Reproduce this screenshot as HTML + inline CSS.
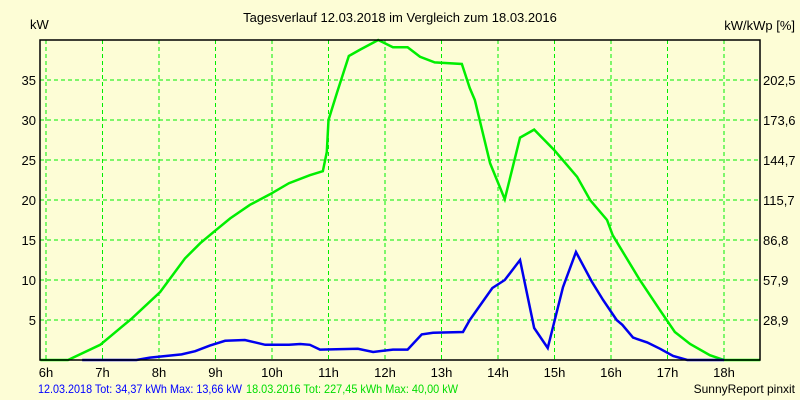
<!DOCTYPE html>
<html><head><meta charset="utf-8"><style>
body{margin:0;background:#fdfdd6;}
svg{display:block;font-family:"Liberation Sans",sans-serif;}
</style></head><body>
<svg id="c" width="800" height="400" viewBox="0 0 800 400">
<rect x="0" y="0" width="800" height="400" fill="#fdfdd6"/>
<text x="400" y="22" text-anchor="middle" font-size="13" fill="#000">Tagesverlauf 12.03.2018 im Vergleich zum 18.03.2016</text>
<text x="30" y="29" font-size="13" fill="#000">kW</text>
<text x="795" y="30" text-anchor="end" font-size="13" fill="#000">kW/kWp [%]</text>
<g id="grid"></g>
<g id="series"></g>
<rect x="40" y="40" width="720" height="320" fill="none" stroke="#000" stroke-width="1.5"/>
<g id="labels"></g>
<text x="38" y="393" font-size="12" fill="#0000ff" textLength="204" lengthAdjust="spacingAndGlyphs">12.03.2018 Tot: 34,37 kWh Max: 13,66 kW</text>
<text x="246" y="393" font-size="12" fill="#00dd00" textLength="212" lengthAdjust="spacingAndGlyphs">18.03.2016 Tot: 227,45 kWh Max: 40,00 kW</text>
<text x="795" y="393" text-anchor="end" font-size="12" fill="#000">SunnyReport pinxit</text>
</svg>
<script>
const hourTicks=[6,7,8,9,10,11,12,13,14,15,16,17,18];
const kwTicks=[5,10,15,20,25,30,35];
const pctTicks=["28,9","57,9","86,8","115,7","144,7","173,6","202,5"];
const h2016=[5.9,6.39,6.96,7.52,8.02,8.46,8.73,9.0,9.26,9.61,9.96,10.3,10.67,10.9,10.97,11.0,11.15,11.36,11.56,11.88,12.14,12.4,12.62,12.88,13.36,13.5,13.59,13.86,14.12,14.39,14.64,15.0,15.4,15.63,15.93,16.03,16.51,16.87,17.13,17.4,17.75,18.0,18.64];
const v2016=[0,0,1.9,5.2,8.5,12.7,14.6,16.2,17.7,19.4,20.7,22.1,23.1,23.6,26,30,33.4,38,38.8,40,39.1,39.1,37.9,37.2,37,34,32.5,24.6,20.1,27.8,28.8,26.2,22.9,20,17.5,15.6,10,6.2,3.5,2.0,0.6,0,0];
const h2018=[6.64,7.6,7.84,8.4,8.64,8.9,9.17,9.52,9.88,10.3,10.5,10.67,10.85,11.52,11.79,12.14,12.4,12.65,12.85,13.38,13.5,13.63,13.9,14.12,14.39,14.64,14.88,15.15,15.38,15.66,15.86,16.1,16.2,16.39,16.64,16.87,17.1,17.35,18.0];
const v2018=[0,0,0.3,0.7,1.1,1.8,2.4,2.5,1.9,1.9,2.0,1.9,1.3,1.4,1.0,1.3,1.3,3.2,3.4,3.5,5,6.3,9,10,12.5,4,1.5,9.1,13.5,9.8,7.5,5,4.4,2.8,2.2,1.4,0.5,0,0];
const NS="http://www.w3.org/2000/svg";
const X=h=>46+(h-6)*56.5;
const Y=v=>360-v*8;
function mk(tag,attrs,parent){const e=document.createElementNS(NS,tag);for(const k in attrs)e.setAttribute(k,attrs[k]);parent.appendChild(e);return e;}
const grid=document.getElementById('grid'),labels=document.getElementById('labels'),series=document.getElementById('series');
hourTicks.forEach(h=>{
  const l=mk('line',{x1:X(h),x2:X(h),y1:40,y2:360,stroke:'#00ee00','stroke-dasharray':'4,3','stroke-width':1},grid);
  
  
  const t=mk('text',{x:X(h),y:377,'text-anchor':'middle','font-size':13,fill:'#000'},labels);
  t.textContent=h+'h';
  
  
});
kwTicks.forEach((v,i)=>{
  const l=mk('line',{x1:40,x2:760,y1:Y(v),y2:Y(v),stroke:'#00ee00','stroke-dasharray':'4,3','stroke-width':1},grid);
  
  
  const t=mk('text',{x:36,y:Y(v)+5,'text-anchor':'end','font-size':13,fill:'#000'},labels);
  t.textContent=v;
  
  
  const t2=mk('text',{x:763,y:Y(v)+5,'font-size':13,fill:'#000'},labels);
  t2.textContent=pctTicks[i];
  
  
});
const p1=mk('polyline',{points:h2016.map((h,i)=>X(h)+','+Y(v2016[i])).join(' '),fill:'none',stroke:'#00ee00','stroke-width':2.5},series);


const p2=mk('polyline',{points:h2018.map((h,i)=>X(h)+','+Y(v2018[i])).join(' '),fill:'none',stroke:'#0000ee','stroke-width':2.5},series);


</script>
</body></html>
